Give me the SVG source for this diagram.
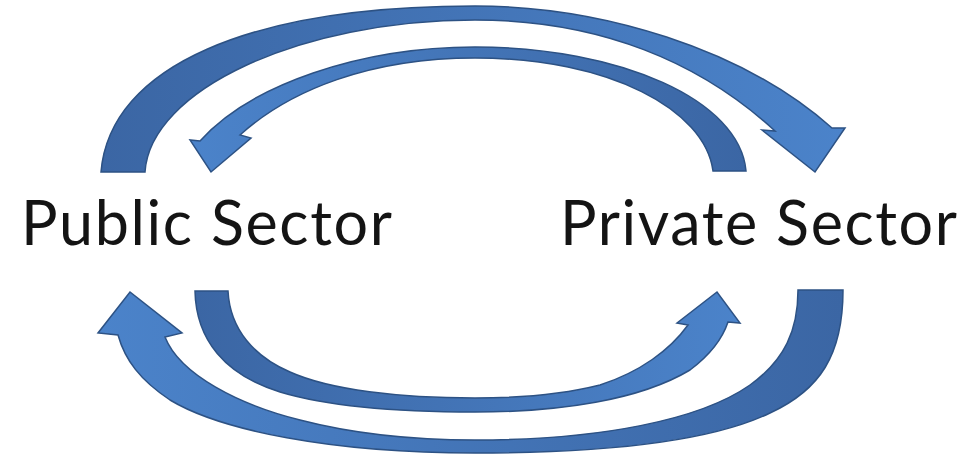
<svg xmlns="http://www.w3.org/2000/svg" width="971" height="456" viewBox="0 0 971 456">
<defs>
<linearGradient id="gTopOuter" gradientUnits="userSpaceOnUse" x1="100" y1="0" x2="845" y2="0">
<stop offset="0" stop-color="#3b66a4"/><stop offset="1" stop-color="#4b83ca"/>
</linearGradient>
<linearGradient id="gTopInner" gradientUnits="userSpaceOnUse" x1="746" y1="0" x2="190" y2="0">
<stop offset="0" stop-color="#3b66a4"/><stop offset="1" stop-color="#4b83ca"/>
</linearGradient>
<linearGradient id="gBottomOuter" gradientUnits="userSpaceOnUse" x1="843" y1="0" x2="98" y2="0">
<stop offset="0" stop-color="#3b66a4"/><stop offset="1" stop-color="#4b83ca"/>
</linearGradient>
<linearGradient id="gBottomInner" gradientUnits="userSpaceOnUse" x1="195" y1="0" x2="740" y2="0">
<stop offset="0" stop-color="#3b66a4"/><stop offset="1" stop-color="#4b83ca"/>
</linearGradient>
</defs>
<style>
.arrow{stroke:#2d5284;stroke-width:1.5;stroke-linejoin:miter}
.label{font-family:Lato,"Open Sans","Liberation Sans",sans-serif;font-size:61px;fill:#141414}
</style>
<rect width="971" height="456" fill="#ffffff"/>
<g id="connectors">
<path id="top-outer" class="arrow" fill="url(#gTopOuter)" d="M101,172 C110,66 250,6 475,6 C600,6 742,48 832,128 L845,128 L815,172 L762,130 L775,131 C700,62 600,20 475,20 C300,20 150,90 145,172 Z"/>
<path id="top-inner" class="arrow" fill="url(#gTopInner)" d="M746,171 C740,100 620,47 475,47 C360,47 250,85 200,141 L190,140 L211,172 L251,138 L240,135 C290,90 370,58 475,58 C610,58 705,110 713,171 Z"/>
<path id="bottom-outer" class="arrow" fill="url(#gBottomOuter)" d="M843,290 C843,355 820,390 770,413 C710,442 600,453 475,453 C330,453 220,430 170,400 C140,380 125,360 118,335 L98,333 L130,292 L182,333 L165,337 C180,375 240,405 300,420 C350,433 410,440 475,440 C600,440 700,420 750,385 C785,360 798,330 798,290 Z"/>
<path id="bottom-inner" class="arrow" fill="url(#gBottomInner)" d="M195,291 C196,340 225,375 280,392 C330,407 400,412 475,412 C560,412 640,400 690,370 C710,355 722,340 728,322 L740,323 L717,292 L677,323 L688,325 C670,350 640,372 600,385 C560,395 520,398 475,398 C400,398 330,390 290,372 C255,357 230,330 228,291 Z"/>
</g>
<g id="public-sector">
<text class="label" x="21" y="245" textLength="371">Public Sector</text>
</g>
<g id="private-sector">
<text class="label" x="560" y="245" textLength="397">Private Sector</text>
</g>
</svg>
